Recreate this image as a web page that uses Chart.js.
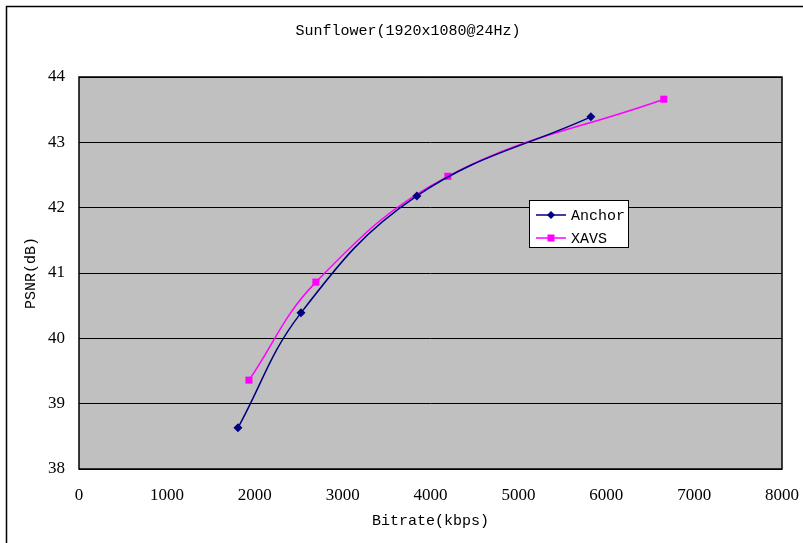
<!DOCTYPE html>
<html><head><meta charset="utf-8">
<script src="https://cdn.jsdelivr.net/npm/chart.js@4/dist/chart.umd.min.js"></script>
<style>html,body{margin:0;padding:0;background:#fff}#wrap{width:803px;height:543px}</style>
</head><body><div id="wrap"><canvas id="c" width="803" height="543"></canvas></div>
<script>
const chartTitle = 'Sunflower(1920x1080@24Hz)';
const xTitle = 'Bitrate(kbps)';
const yTitle = 'PSNR(dB)';
const anchorBitrate = [1809, 2526, 3845, 5825];
const anchorPsnr = [38.63, 40.39, 42.18, 43.39];
const xavsBitrate = [1934, 2696, 4198, 6655];
const xavsPsnr = [39.36, 40.86, 42.48, 43.66];
const seriesNames = ['Anchor', 'XAVS'];

const monoFont = "'Liberation Mono', monospace";
const serifFont = "'Liberation Serif', serif";

const decor = {
  id: 'decor',
  beforeDraw(chart) {
    const {ctx, chartArea: a} = chart;
    ctx.save();
    ctx.fillStyle = '#fff';
    ctx.fillRect(0, 0, chart.width, chart.height);
    ctx.strokeStyle = '#000';
    ctx.lineWidth = 1.5;
    ctx.strokeRect(6.5, 6.5, 1000, 1000);
    ctx.fillStyle = '#C0C0C0';
    ctx.fillRect(a.left, a.top, a.right - a.left, a.bottom - a.top);
    ctx.fillStyle = '#000';
    ctx.font = '15px ' + monoFont;
    ctx.textAlign = 'center';
    ctx.textBaseline = 'middle';
    ctx.fillText(chartTitle, 408, 31);
    ctx.restore();
  },
  afterDatasetsDraw(chart) {
    const {ctx, chartArea: a} = chart;
    ctx.save();
    ctx.strokeStyle = '#000';
    ctx.lineWidth = 1.5;
    ctx.strokeRect(a.left, a.top, a.right - a.left, a.bottom - a.top);
    // legend
    const bx = a.left + 450, by = a.top + 123, bw = 99, bh = 47;
    ctx.fillStyle = '#fff';
    ctx.fillRect(bx, by, bw, bh);
    ctx.lineWidth = 1;
    ctx.strokeRect(bx + 0.5, by + 0.5, bw, bh);
    chart.data.datasets.forEach((ds, i) => {
      const y = by + 15 + i * 23;
      ctx.strokeStyle = ds.borderColor;
      ctx.lineWidth = 1.5;
      ctx.beginPath();
      ctx.moveTo(bx + 7, y); ctx.lineTo(bx + 37, y); ctx.stroke();
      ctx.fillStyle = ds.borderColor;
      if (ds.pointStyle === 'rect') {
        ctx.fillRect(bx + 22 - 3.5, y - 3.5, 7, 7);
      } else {
        ctx.beginPath();
        ctx.moveTo(bx + 22, y - 4); ctx.lineTo(bx + 26, y); ctx.lineTo(bx + 22, y + 4); ctx.lineTo(bx + 18, y); ctx.closePath(); ctx.fill();
      }
      ctx.fillStyle = '#000';
      ctx.font = '15px ' + monoFont;
      ctx.textBaseline = 'middle';
      ctx.fillText(ds.label, bx + 42, y + 1);
    });
    ctx.restore();
  }
};

new Chart(document.getElementById('c'), {
  type: 'scatter',
  data: {
    datasets: [
      {
        label: seriesNames[0],
        data: anchorBitrate.map((x, i) => ({x, y: anchorPsnr[i]})),
        showLine: true, borderColor: '#000080', backgroundColor: '#000080',
        borderWidth: 1.5, tension: 0.4, pointStyle: 'rectRot', pointRadius: 4.5,
        pointBorderWidth: 0
      },
      {
        label: seriesNames[1],
        data: xavsBitrate.map((x, i) => ({x, y: xavsPsnr[i]})),
        showLine: true, borderColor: '#FF00FF', backgroundColor: '#FF00FF',
        borderWidth: 1.5, tension: 0.4, pointStyle: 'rect', pointRadius: 5,
        pointBorderWidth: 0
      }
    ]
  },
  options: {
    responsive: false,
    animation: false,
    devicePixelRatio: 1,
    layout: {padding: {left: 0, top: 77, right: 21, bottom: 0}},
    plugins: {
      legend: {display: false},
      tooltip: {enabled: false},
      title: {display: false}
    },
    scales: {
      x: {
        type: 'linear', min: 0, max: 8000,
        ticks: {stepSize: 1000, color: '#000', padding: 16, font: {family: serifFont, size: 17},
          callback: v => String(v)},
        grid: {display: false, drawTicks: false},
        border: {display: false},
        title: {display: true, text: xTitle, color: '#000', font: {family: monoFont, size: 15, lineHeight: 1.2}, padding: {top: 0, bottom: 13}},
        afterFit(s) { s.height = 74; s.paddingLeft = 0; s.paddingRight = 0; }
      },
      y: {
        type: 'linear', min: 38, max: 44,
        ticks: {stepSize: 1, color: '#000', padding: 14, font: {family: serifFont, size: 17},
          callback: v => String(v)},
        grid: {color: '#000', lineWidth: 1, drawTicks: false},
        border: {display: false},
        title: {display: true, text: yTitle, color: '#000', font: {family: monoFont, size: 15, lineHeight: 1.2}, padding: {top: 22, bottom: 0}},
        afterFit(s) { s.width = 79; s.paddingTop = 0; s.paddingBottom = 0; }
      }
    }
  },
  plugins: [decor]
});
</script>
</body></html>
